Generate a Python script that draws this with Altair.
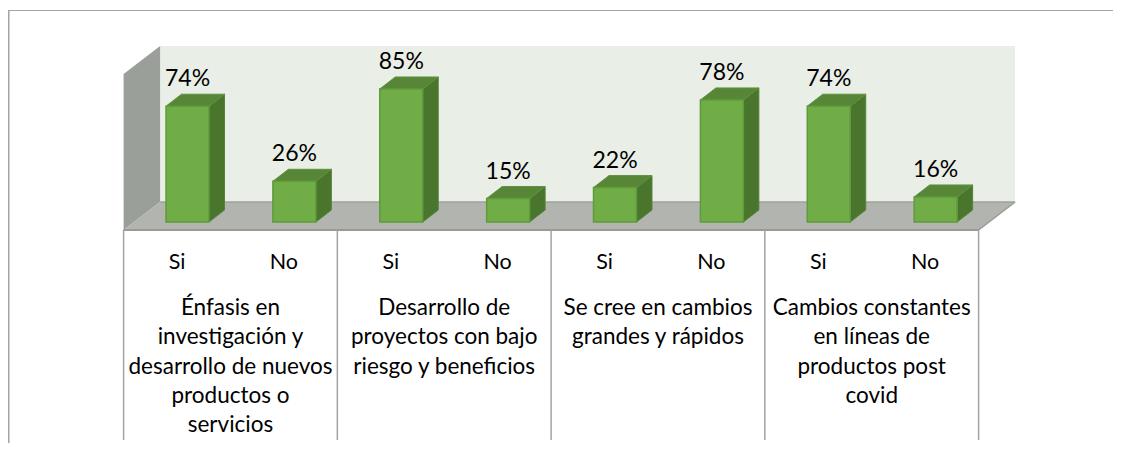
import altair as alt
import pandas as pd

# --- chart values ---
answers = ["Si", "No", "Si", "No", "Si", "No", "Si", "No"]
percent = [74, 26, 85, 15, 22, 78, 74, 16]
groups = [
    "Énfasis en\ninvestigación y\ndesarrollo de nuevos\nproductos o\nservicios",
    "Desarrollo de\nproyectos con bajo\nriesgo y beneficios",
    "Se cree en cambios\ngrandes y rápidos",
    "Cambios constantes\nen líneas de\nproductos post\ncovid",
]

# --- layout constants ---
W, H = 1105, 435
SLOT = 106.875              # px per answer slot
X0 = 115.6                  # px of slot 0 (front floor-left corner)
PCT = 1.565                 # px per percentage point
Y0 = 214                    # px of 0 %
DX, DY = 15.5 / SLOT, 12 / PCT          # bar depth in scale units
FX, FY = 36.5 / SLOT, 28 / PCT          # floor depth in scale units
FRONT = 8 / PCT                         # floor front edge below 0 %
WALL = 156 / PCT                        # wall height
BAR_L, BAR_W = 0.397, 0.402
n = len(percent)

xs = alt.Scale(domain=[-X0 / SLOT, (W - X0) / SLOT], range=[0, W], nice=False, zero=False)
ys = alt.Scale(domain=[-(H - Y0) / PCT, Y0 / PCT], range=[H, 0], nice=False, zero=False)
X = lambda f: alt.X(f, type="quantitative", scale=xs, axis=None)
Y = lambda f: alt.Y(f, type="quantitative", scale=ys, axis=None)

bars = pd.DataFrame({
    "i": range(n), "v": percent, "a": answers,
    "l": [i + BAR_L for i in range(n)],
    "r": [i + BAR_L + BAR_W for i in range(n)],
    "c": [i + BAR_L + BAR_W / 2 for i in range(n)],
    "m": [i + 0.5 for i in range(n)],
    "t": [f"{v}%" for v in percent],
    "z": [0] * n,
})
side = pd.DataFrame(
    [dict(i=i, x=r, y=0, y2=v) for i, r, v in zip(bars.i, bars.r, bars.v)]
    + [dict(i=i, x=r + DX, y=DY, y2=v + DY) for i, r, v in zip(bars.i, bars.r, bars.v)]
)
top = pd.DataFrame(
    [dict(i=i, y=v, x=l, x2=r) for i, l, r, v in zip(bars.i, bars.l, bars.r, bars.v)]
    + [dict(i=i, y=v + DY, x=l + DX, x2=r + DX) for i, l, r, v in zip(bars.i, bars.l, bars.r, bars.v)]
)
END = n + 0.0
wall = pd.DataFrame([dict(x=FX, x2=END + FX, y=FY - FRONT, y2=FY - FRONT + WALL)])
floor = pd.DataFrame([
    dict(y=-FRONT, x=0, x2=END),
    dict(y=FY - FRONT, x=FX, x2=END + FX),
])
lwall = pd.DataFrame([
    dict(x=0, y=-FRONT, y2=WALL - FRONT),
    dict(x=FX, y=FY - FRONT, y2=WALL - FRONT + FY),
])
edge_front = pd.DataFrame([dict(x=0, x2=END, y=-FRONT)])
edge_back = pd.DataFrame([dict(x=FX, x2=END + FX, y=FY - FRONT)])
edge_right = pd.DataFrame([dict(x=END, y=-FRONT), dict(x=END + FX, y=FY - FRONT)])
seps = pd.DataFrame([dict(x=k * 2, y=-FRONT, y2=-FRONT - 210 / PCT) for k in range(len(groups) + 1)])
cats = pd.DataFrame({"x": [k * 2 + 1 for k in range(len(groups))], "t": groups})

FONT = "Lato"
GREEN, GREEN_E = "#70ad47", "#5f9a3b"
GREY = "#a3a3a3"

frame_top = alt.Chart(pd.DataFrame({"a": [0]})).mark_rule(color=GREY, strokeWidth=1).encode(
    x=alt.value(0), x2=alt.value(W), y=alt.value(2.5))
frame_left = alt.Chart(pd.DataFrame({"a": [0]})).mark_rule(color=GREY, strokeWidth=2).encode(
    x=alt.value(0.5), y=alt.value(2), y2=alt.value(H))

layers = [
    frame_top, frame_left,
    alt.Chart(wall).mark_rect(color="#e9eee7").encode(X("x"), x2="x2", y=Y("y"), y2="y2"),
    alt.Chart(lwall).mark_area(color="#9b9f9a").encode(X("x"), Y("y"), y2="y2"),
    alt.Chart(floor).mark_area(color="#b1b4af", orient="horizontal").encode(X("x"), x2="x2", y=Y("y")),
    alt.Chart(edge_back).mark_rule(color="#9fa29d", strokeWidth=1.5).encode(X("x"), x2="x2", y=Y("y")),
    alt.Chart(edge_right).mark_line(color="#9a9a9a", strokeWidth=1.5).encode(X("x"), Y("y")),
    alt.Chart(side).mark_area(color="#4a752d", stroke="#558437", strokeWidth=1).encode(
        X("x"), Y("y"), y2="y2", detail="i:N"),
    alt.Chart(top).mark_area(color="#588637", stroke="#5f9040", strokeWidth=1, orient="horizontal").encode(
        X("x"), x2="x2", y=Y("y"), detail="i:N"),
    alt.Chart(bars).mark_rect(color=GREEN, stroke=GREEN_E, strokeWidth=1.5).encode(
        X("l"), x2="r", y=Y("z"), y2="v"),
    alt.Chart(edge_front).mark_rule(color="#999999", strokeWidth=2).encode(X("x"), x2="x2", y=Y("y")),
    alt.Chart(seps).mark_rule(color=GREY, strokeWidth=1.5).encode(X("x"), y=Y("y"), y2="y2"),
    alt.Chart(bars).mark_text(font=FONT, fontSize=23, color="#000000", dy=-27).encode(
        X("c"), Y("v"), text="t:N"),
    alt.Chart(bars).mark_text(font=FONT, fontSize=21.5, color="#000000").encode(
        X("m"), y=alt.value(255), text="a:N"),
    alt.Chart(cats).mark_text(font=FONT, fontSize=22.5, color="#000000", lineBreak="\n",
                              lineHeight=29.3, baseline="top").encode(
        X("x"), y=alt.value(289), text="t:N"),
]

chart = alt.layer(*layers).properties(
    width=W, height=H, padding=0, autosize="none", background="white"
).configure_view(strokeWidth=0)

chart.save("out.html", embed_options={"renderer": "svg", "actions": False})
